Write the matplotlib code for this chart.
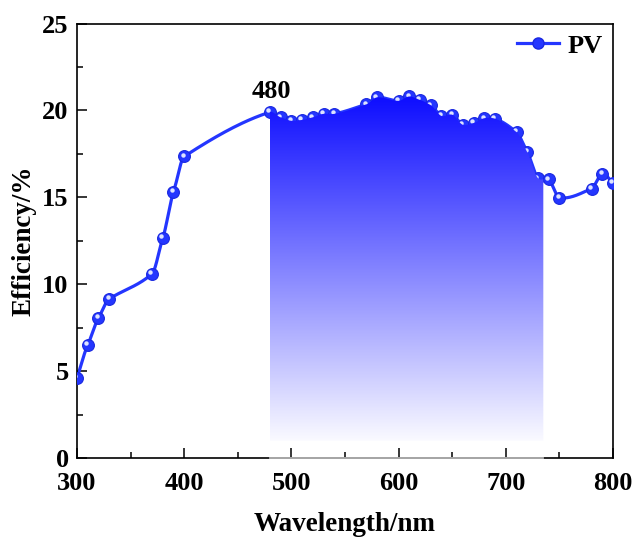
import numpy as np
import matplotlib
matplotlib.use("Agg")
import matplotlib.pyplot as plt
import matplotlib.transforms as mtransforms
from matplotlib.patches import Polygon
from matplotlib.lines import Line2D

wavelength = [300, 310, 320, 330, 370, 380, 390, 400, 480, 490, 500, 510, 520, 530, 540,
              570, 580, 600, 610, 620, 630, 640, 650, 660, 670, 680, 690, 710, 720, 730,
              740, 750, 780, 790, 800]
efficiency = [4.6, 6.5, 8.05, 9.15, 10.6, 12.65, 15.3, 17.35, 19.9, 19.6, 19.4, 19.45, 19.6, 19.8, 19.8,
              20.35, 20.75, 20.55, 20.8, 20.6, 20.3, 19.68, 19.75, 19.17, 19.27, 19.55, 19.52, 18.75, 17.6, 16.1,
              16.03, 14.98, 15.5, 16.36, 15.82]
fill_range = (480, 735)
fill_floor = 1.0
series_name = "PV"
annot_text = "480"

plt.rcParams['font.family'] = ['Liberation Serif', 'DejaVu Serif']
plt.rcParams['font.weight'] = 'bold'

def hermite_curve(x, y, n=40, tension=0.78):
    x = np.asarray(x, float); y = np.asarray(y, float)
    m = np.zeros_like(y)
    m[1:-1] = (y[2:] - y[:-2]) / (x[2:] - x[:-2])
    m[0] = (y[1] - y[0]) / (x[1] - x[0])
    m[-1] = (y[-1] - y[-2]) / (x[-1] - x[-2])
    m[1:-1] *= tension
    xs, ys = [], []
    for i in range(len(x) - 1):
        h = x[i + 1] - x[i]
        t = np.linspace(0, 1, n, endpoint=(i == len(x) - 2))
        h00 = 2 * t**3 - 3 * t**2 + 1
        h10 = t**3 - 2 * t**2 + t
        h01 = -2 * t**3 + 3 * t**2
        h11 = t**3 - t**2
        xs.append(x[i] + t * h)
        ys.append(h00 * y[i] + h10 * h * m[i] + h01 * y[i + 1] + h11 * h * m[i + 1])
    return np.concatenate(xs), np.concatenate(ys)

fig = plt.figure(figsize=(6.37, 5.39), dpi=100)
ax = fig.add_axes([0.1209, 0.1503, 0.8414, 0.8061])

xs, ys = hermite_curve(wavelength, efficiency)
blue = '#2436ff'
ax.plot(xs, ys, color=blue, lw=2.3, zorder=2)
ax.plot(wavelength, efficiency, ls='none', marker='o', ms=8.5, mfc=blue, mec='#1a28e0',
        mew=0.8, zorder=3)
offset = mtransforms.ScaledTranslation(-1.2 / 72, 1.2 / 72, fig.dpi_scale_trans)
ax.plot(wavelength, efficiency, ls='none', marker='o', ms=3.2, mfc='#dde3ff', mec='none',
        zorder=3.1, transform=ax.transData + offset)

# gradient fill
mask = (xs >= fill_range[0]) & (xs <= fill_range[1])
px = np.concatenate([[fill_range[0]], xs[mask], [fill_range[1]]])
py = np.concatenate([[np.interp(fill_range[0], xs, ys)], ys[mask], [np.interp(fill_range[1], xs, ys)]])
verts = np.column_stack([np.concatenate([px, [fill_range[1], fill_range[0]]]),
                         np.concatenate([py, [fill_floor, fill_floor]])])
poly = Polygon(verts, closed=True, facecolor='none', edgecolor='none')
ax.add_patch(poly)
ytop = 20.9
grad = np.linspace(0, 1, 256).reshape(-1, 1)
top_c = np.array([0.05, 0.05, 1.0]); bot_c = np.array([0.98, 0.98, 1.0])
img = top_c[None, None, :] * (1 - grad[:, :, None]) + bot_c[None, None, :] * grad[:, :, None]
im = ax.imshow(img, extent=[fill_range[0], fill_range[1], fill_floor, ytop], origin='upper',
               aspect='auto', zorder=4, interpolation='bilinear')
im.set_clip_path(poly)

ax.plot([fill_range[0], fill_range[1]], [0, 0], color='#b4b4b4', lw=1.3, zorder=5, clip_on=False)

ax.set_xlim(300, 800)
ax.set_ylim(0, 25)
ax.set_xticks(np.arange(300, 801, 100))
ax.set_xticks(np.arange(350, 800, 100), minor=True)
ax.set_yticks(np.arange(0, 26, 5))
ax.set_yticks(np.arange(2.5, 25, 5), minor=True)
ax.tick_params(which='both', direction='in', top=False, right=False, labelsize=19, width=1.1)
ax.tick_params(which='major', length=7)
ax.tick_params(which='minor', length=4)
ax.tick_params(axis='x', pad=10)
ax.tick_params(axis='y', pad=6)
for s in ax.spines.values():
    s.set_linewidth(1.2)
for lab in ax.get_xticklabels() + ax.get_yticklabels():
    lab.set_fontweight('bold')

ax.set_xlabel('Wavelength/nm', fontsize=19.5, fontweight='bold', labelpad=12)
ax.set_ylabel('Efficiency/%', fontsize=19.5, fontweight='bold', labelpad=4)

ax.text(481, 20.45, annot_text, fontsize=19, fontweight='bold', ha='center', va='bottom')

h = Line2D([], [], color=blue, lw=2.3, marker='o', ms=8, mfc=blue, mec='#1a28e0')
ax.legend([h], [series_name], loc='upper right', frameon=False,
          prop={'weight': 'bold', 'size': 19}, handlelength=1.6, handletextpad=0.3,
          borderaxespad=0.1, borderpad=0.3)

fig.savefig('out.png', dpi=100)
